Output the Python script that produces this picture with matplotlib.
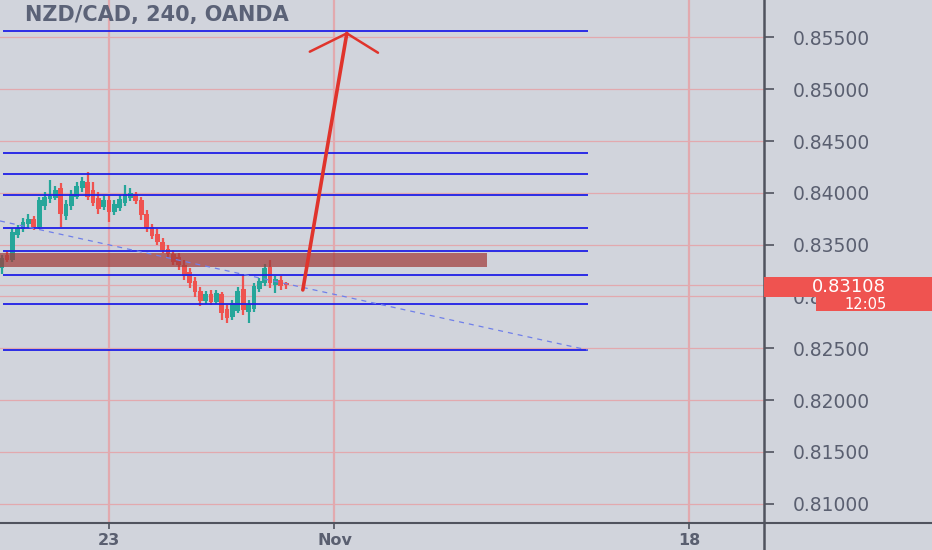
import matplotlib
matplotlib.use("Agg")
import matplotlib.pyplot as plt
from matplotlib.patches import Rectangle
from matplotlib.lines import Line2D
import numpy as np

# ---------------- data ----------------
title = "NZD/CAD, 240, OANDA"
opens = [0.83274, 0.83399, 0.83351, 0.83592, 0.83650, 0.83698, 0.83746, 0.83669, 0.83871, 0.83939,
         0.83949, 0.84045, 0.83775, 0.83871, 0.83958, 0.84045, 0.84103, 0.84026, 0.83949, 0.83862,
         0.83929, 0.83814, 0.83852, 0.83900, 0.83949, 0.83987, 0.83929, 0.83794, 0.83669, 0.83602,
         0.83525, 0.83457, 0.83409, 0.83380, 0.83303, 0.83236, 0.83149, 0.83053, 0.82956, 0.83024,
         0.82947, 0.83024, 0.82879, 0.82802, 0.82860, 0.83072, 0.82850, 0.82879, 0.83072, 0.83130,
         0.83284, 0.83110, 0.83159, 0.83130]
highs = [0.83399, 0.83438, 0.83659, 0.83688, 0.83756, 0.83794, 0.83775, 0.83958, 0.84006, 0.84122,
         0.84064, 0.84093, 0.83929, 0.84026, 0.84103, 0.84151, 0.84199, 0.84103, 0.84006, 0.83968,
         0.83968, 0.83929, 0.83977, 0.84074, 0.84045, 0.84006, 0.83958, 0.83833, 0.83698, 0.83650,
         0.83563, 0.83496, 0.83448, 0.83419, 0.83351, 0.83274, 0.83187, 0.83091, 0.83053, 0.83062,
         0.83062, 0.83043, 0.82918, 0.82966, 0.83091, 0.83207, 0.82966, 0.83130, 0.83178, 0.83313,
         0.83351, 0.83197, 0.83197, 0.83139]
lows = [0.83216, 0.83332, 0.83332, 0.83563, 0.83621, 0.83659, 0.83640, 0.83650, 0.83833, 0.83900,
        0.83929, 0.83669, 0.83737, 0.83833, 0.83939, 0.84006, 0.83929, 0.83871, 0.83794, 0.83833,
        0.83717, 0.83785, 0.83823, 0.83871, 0.83920, 0.83891, 0.83737, 0.83621, 0.83553, 0.83496,
        0.83419, 0.83380, 0.83303, 0.83255, 0.83159, 0.83081, 0.82995, 0.82908, 0.82927, 0.82918,
        0.82927, 0.82773, 0.82744, 0.82773, 0.82841, 0.82821, 0.82744, 0.82850, 0.83043, 0.83101,
        0.83081, 0.83033, 0.83062, 0.83072]
closes = [0.83370, 0.83351, 0.83621, 0.83659, 0.83717, 0.83746, 0.83669, 0.83929, 0.83958, 0.83968,
          0.84026, 0.83794, 0.83891, 0.83987, 0.84064, 0.84112, 0.83958, 0.83900, 0.83843, 0.83929,
          0.83814, 0.83891, 0.83939, 0.83987, 0.83997, 0.83920, 0.83785, 0.83659, 0.83582, 0.83525,
          0.83448, 0.83409, 0.83332, 0.83303, 0.83197, 0.83130, 0.83043, 0.82956, 0.83024, 0.82947,
          0.83033, 0.82841, 0.82792, 0.82937, 0.83053, 0.82870, 0.82927, 0.83101, 0.83149, 0.83274,
          0.83130, 0.83168, 0.83101, 0.83108]
first_candle_slot = -20          # candle slots counted from the "23" tick

level_prices = [0.85565, 0.84388, 0.84180, 0.83980, 0.83658, 0.83439, 0.83205, 0.82930, 0.82483]
level_span = [-19.7, 89.2]
zone_low, zone_high = 0.83288, 0.83423
zone_span = [-20.3, 70.4]
trend_x = [-20.3, 89.2]
trend_y = [0.83729, 0.82483]
arrow_shaft_x = [36.1, 44.3]
arrow_shaft_y = [0.83063, 0.85540]
arrow_head_x = [37.4, 44.3, 50.1]
arrow_head_y = [0.85363, 0.85540, 0.85353]

last_price = 0.83108
last_price_label = "0.83108"
countdown = "12:05"

ytick_values = [0.810, 0.815, 0.820, 0.825, 0.830, 0.835, 0.840, 0.845, 0.850, 0.855]
xtick_pos = [0, 42, 108]
xtick_labels = ["23", "Nov", "18"]

# ---------------- styling ----------------
W, H = 932, 550
bg = "#d1d4dc"
up_c = "#26a69a"
dn_c = "#ef5350"
grid_c = "#e2a9ae"
axis_c = "#50535e"
text_c = "#5a5f70"

fig = plt.figure(figsize=(W / 100, H / 100), dpi=100, facecolor=bg)
ax = fig.add_axes([0, 27 / H, 764 / W, 523 / H], facecolor=bg)
ax.set_xlim(-20.3, 122.0)
ax.set_ylim(0.80813, 0.85862)

# grid
for yv in ytick_values:
    ax.axhline(yv, color=grid_c, lw=0.9, zorder=0)
for xv in xtick_pos:
    ax.axvline(xv, color=grid_c, lw=1.6, zorder=0)

# last price line
ax.axhline(last_price, color=grid_c, lw=0.9, zorder=0.5)

# candles
slots = np.arange(len(opens)) + first_candle_slot
for s, o, h, l, c in zip(slots, opens, highs, lows, closes):
    col = up_c if c >= o else dn_c
    ax.vlines(s, l, h, color=col, lw=1.6, zorder=2)
    ax.bar(s, abs(c - o) if abs(c - o) > 1e-6 else 0.00003, bottom=min(o, c),
           width=0.88, color=col, edgecolor=col, lw=0, zorder=3)

# zone rectangle
ax.add_patch(Rectangle((zone_span[0], zone_low), zone_span[1] - zone_span[0], zone_high - zone_low,
                       facecolor=(161 / 255, 60 / 255, 60 / 255), alpha=0.72, edgecolor="none", zorder=4))

# horizontal levels
ax.hlines(level_prices, level_span[0], level_span[1], color="#1f1fe6", lw=1.3, zorder=5)

# dashed trend line
ax.plot(trend_x, trend_y, color="#6f7fea", lw=0.9, ls=(0, (4, 4)), zorder=5)

# arrow
ax.plot(arrow_shaft_x, arrow_shaft_y, color="#e0342c", lw=2.6, solid_capstyle="round", zorder=6)
ax.plot(arrow_head_x, arrow_head_y, color="#e0342c", lw=1.8, solid_capstyle="round",
        solid_joinstyle="miter", zorder=6)

# axes / ticks
for sp in ax.spines.values():
    sp.set_visible(False)
ax.yaxis.tick_right()
ax.set_yticks(ytick_values)
ax.set_yticklabels([f"{v:.5f}" for v in ytick_values])
ax.tick_params(axis="y", direction="out", length=7, width=1.2, color=axis_c, pad=14,
               labelsize=13.5, labelcolor=text_c)
ax.set_xticks(xtick_pos)
ax.set_xticklabels(xtick_labels)
ax.tick_params(axis="x", direction="out", length=4, width=1.2, color=axis_c, pad=3,
               labelsize=11.5, labelcolor=text_c)
for lab in ax.get_xticklabels():
    lab.set_fontweight("bold")

# full-length axis lines
fig.add_artist(Line2D([764 / W, 764 / W], [0, 1], transform=fig.transFigure, color=axis_c, lw=1.8))
fig.add_artist(Line2D([0, 1], [27 / H, 27 / H], transform=fig.transFigure, color=axis_c, lw=1.5))

# title
fig.text(25 / W, 1 - 15 / H, title, fontsize=15, fontweight="bold", color="#5b6277",
         ha="left", va="center")

# price label boxes
fig.add_artist(Rectangle((764 / W, (H - 297) / H), (W - 764) / W, 20 / H, transform=fig.transFigure,
                         facecolor=dn_c, edgecolor="none", zorder=5))
fig.add_artist(Rectangle((816 / W, (H - 311) / H), (W - 816) / W, 14 / H, transform=fig.transFigure,
                         facecolor=dn_c, edgecolor="none", zorder=5))
fig.text(849 / W, (H - 287) / H, last_price_label, color="white", fontsize=13, ha="center",
         va="center", zorder=6)
fig.text(866 / W, (H - 304.5) / H, countdown, color="white", fontsize=10.5, ha="center",
         va="center", zorder=6)

fig.savefig("out.png", dpi=100, facecolor=bg)
